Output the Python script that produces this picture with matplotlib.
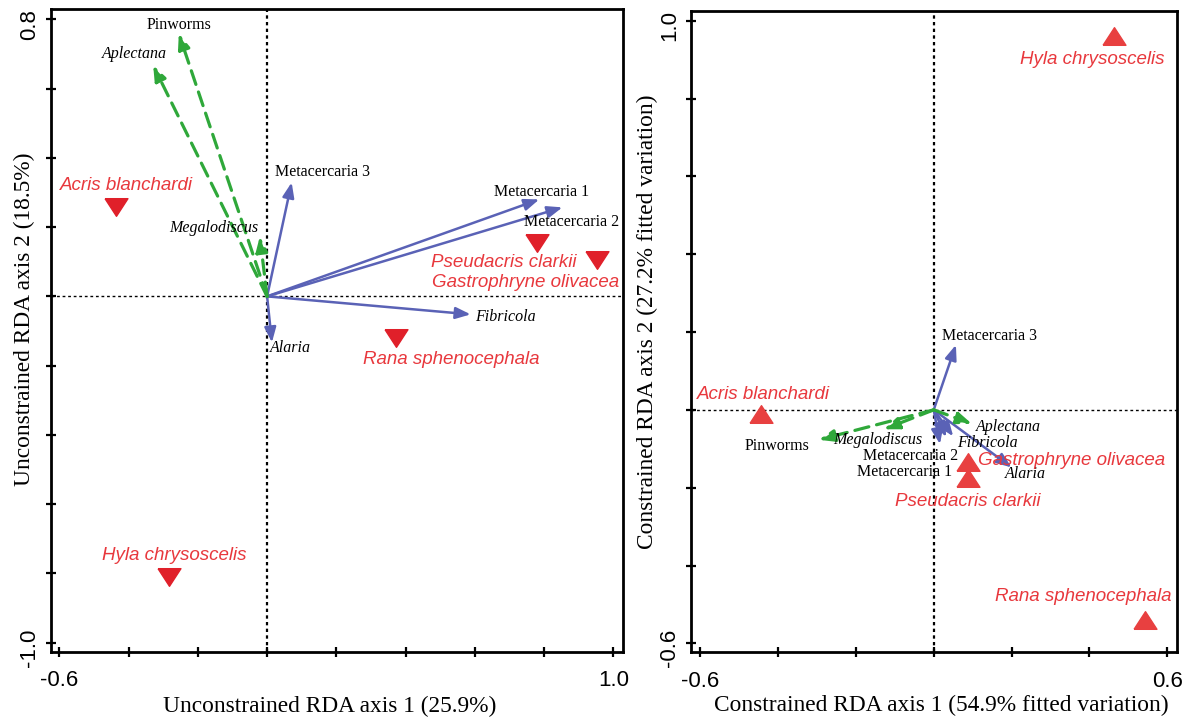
import matplotlib
matplotlib.use("Agg")
import matplotlib.pyplot as plt
from matplotlib.transforms import ScaledTranslation

# ---- data ----
species = ["Acris blanchardi", "Pseudacris clarkii", "Gastrophryne olivacea",
           "Rana sphenocephala", "Hyla chrysoscelis"]
unc_sp_x = [-0.435, 0.779, 0.952, 0.372, -0.283]
unc_sp_y = [0.257, 0.153, 0.104, -0.121, -0.811]
con_sp_x = [-0.443, 0.088, 0.088, 0.543, 0.462]
con_sp_y = [-0.010, -0.176, -0.133, -0.540, 0.960]

helminths = ["Metacercaria 1", "Metacercaria 2", "Metacercaria 3", "Fibricola",
             "Alaria", "Aplectana", "Megalodiscus", "Pinworms"]
italic_names = ["Fibricola", "Alaria", "Aplectana", "Megalodiscus"]
green_names = ["Aplectana", "Megalodiscus", "Pinworms"]  # drawn dashed
unc_hel_x = [0.786, 0.853, 0.071, 0.588, 0.014, -0.329, -0.021, -0.255]
unc_hel_y = [0.280, 0.257, 0.329, -0.052, -0.133, 0.667, 0.173, 0.759]
con_hel_x = [0.016, 0.032, 0.057, 0.050, 0.200, 0.098, -0.128, -0.295]
con_hel_y = [-0.088, -0.070, 0.167, -0.068, -0.148, -0.036, -0.050, -0.077]

# label placement (offset in pixels, horizontal alignment)
unc_sp_lab = [(10, 22, "center"), (-106, -19, "left"), (-165, -22, "left"),
              (55, -21, "center"), (5, 22, "center")]
con_sp_lab = [(2, 19, "center"), (0, -23, "center"), (10, 1, "left"),
              (-62, 23, "center"), (-21, -23, "center")]
unc_hel_lab = [(2, 7, "center"), (9, -15, "center"), (-17, 10, "left"), (4, -3, "left"),
               (-2, -6, "left"), (-19, 11, "center"), (-2, 8, "right"), (0, 9, "center")]
con_hel_lab = [(12, -28, "right"), (12, -19, "right"), (-14, 9, "left"), (4, -7, "left"),
               (-7, -7, "left"), (4, -3, "left"), (-6, -11, "center"), (-9, -6, "right")]

BLUE = "#5a62b6"
GREEN = "#2fa83a"
RED_TXT = "#e8383d"
SERIF = "Liberation Serif"
SANS = "Liberation Sans"

tri_down = [(-1, 0.77), (1, 0.77), (0, -0.77), (-1, 0.77)]
tri_up = [(-1, -0.77), (1, -0.77), (0, 0.77), (-1, -0.77)]


def draw_panel(fig, ax, sx, sy, slab, hx, hy, hlab, marker, mcolor, xlim, ylim, xt, yt,
               xlabel, ylabel, xlab_pos, ylab_pos):
    ax.axhline(0, color="black", lw=1.0, ls=(0, (2, 2)), zorder=1)
    ax.axvline(0, color="black", lw=1.6, ls=(0, (1.5, 1.5)), zorder=1)

    for name, x, y, (dx, dy, ha) in zip(helminths, hx, hy, hlab):
        green = name in green_names
        col = GREEN if green else BLUE
        ax.annotate("", xy=(x, y), xytext=(0, 0),
                    arrowprops=dict(arrowstyle="-|>,head_length=0.9,head_width=0.35",
                                    color=col, lw=2.3 if green else 1.8,
                                    ls=(0, (4.5, 2.5)) if green else "-",
                                    shrinkA=0, shrinkB=0), zorder=3)
        ax.annotate(name, xy=(x, y), xytext=(dx, dy), textcoords="offset pixels",
                    ha=ha, va="center", fontsize=11.5, family=SERIF,
                    style="italic" if name in italic_names else "normal", zorder=4)

    ax.plot(sx, sy, ls="none", marker=marker, ms=16.5, color=mcolor, mec=mcolor, zorder=5)
    for name, x, y, (dx, dy, ha) in zip(species, sx, sy, slab):
        ax.annotate(name, xy=(x, y), xytext=(dx, dy), textcoords="offset pixels",
                    ha=ha, va="center", fontsize=13.5, family=SANS, style="italic",
                    color=RED_TXT, zorder=6)

    ax.set_xlim(*xlim)
    ax.set_ylim(*ylim)
    ax.set_xticks(xt)
    ax.set_yticks(yt)
    ax.set_xticklabels([f"{xt[0]:.1f}"] + [""] * (len(xt) - 2) + [f"{xt[-1]:.1f}"],
                       family=SANS, fontsize=16)
    ax.set_yticklabels([f"{yt[0]:.1f}"] + [""] * (len(yt) - 2) + [f"{yt[-1]:.1f}"],
                       family=SANS, fontsize=16, rotation=90, va="center")
    ax.tick_params(direction="inout", length=7, width=1.6, pad=10)
    ax.tick_params(axis="y", pad=4)
    shift = ScaledTranslation(0, -5 / 100, fig.dpi_scale_trans)
    for lab in ax.get_yticklabels():
        lab.set_transform(lab.get_transform() + shift)
    for sp in ax.spines.values():
        sp.set_linewidth(2.0)
    ax.set_xlabel(xlabel, family=SERIF, fontsize=16.8)
    ax.set_ylabel(ylabel, family=SERIF, fontsize=16.8)
    ax.xaxis.set_label_coords(*xlab_pos)
    ax.yaxis.set_label_coords(*ylab_pos)


fig = plt.figure(figsize=(11.99, 7.19), dpi=100)
ax1 = fig.add_axes([0.0423, 0.0936, 0.4770, 0.8935])
ax2 = fig.add_axes([0.5761, 0.0928, 0.4053, 0.8919])

draw_panel(fig, ax1, unc_sp_x, unc_sp_y, unc_sp_lab, unc_hel_x, unc_hel_y, unc_hel_lab,
           tri_down, "#e0202a", (-0.625, 1.027), (-1.026, 0.829),
           [-0.6, -0.4, -0.2, 0.0, 0.2, 0.4, 0.6, 0.8, 1.0],
           [-1.0, -0.8, -0.6, -0.4, -0.2, 0.0, 0.2, 0.4, 0.6, 0.8],
           "Unconstrained RDA axis 1 (25.9%)", "Unconstrained RDA axis 2 (18.5%)",
           (0.488, -0.068), (-0.028, 0.517))

draw_panel(fig, ax2, con_sp_x, con_sp_y, con_sp_lab, con_hel_x, con_hel_y, con_hel_lab,
           tri_up, "#e84040", (-0.624, 0.624), (-0.623, 1.025),
           [-0.6, -0.4, -0.2, 0.0, 0.2, 0.4, 0.6],
           [-0.6, -0.4, -0.2, 0.0, 0.2, 0.4, 0.6, 0.8, 1.0],
           "Constrained RDA axis 1 (54.9% fitted variation)",
           "Constrained RDA axis 2 (27.2% fitted variation)",
           (0.515, -0.067), (-0.067, 0.515))

fig.savefig("out.png", dpi=100)
